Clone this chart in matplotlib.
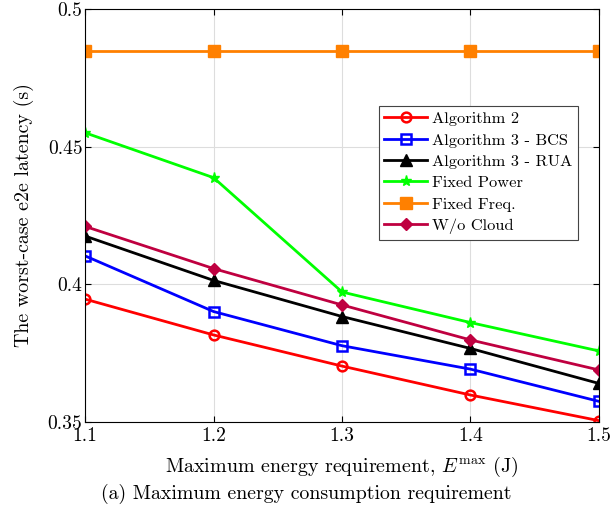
import numpy as np
import matplotlib
matplotlib.use("Agg")
import matplotlib.pyplot as plt

plt.rcParams['font.family'] = ['cmr10', 'DejaVu Serif']
plt.rcParams['mathtext.fontset'] = 'cm'
plt.rcParams['axes.formatter.use_mathtext'] = True

# Datos
e_max = [1.1, 1.2, 1.3, 1.4, 1.5]
alg2 = [0.3946, 0.3816, 0.3703, 0.3598, 0.3505]
alg3_bcs = [0.4103, 0.3901, 0.3777, 0.3692, 0.3575]
alg3_rua = [0.4175, 0.4014, 0.3883, 0.3767, 0.3640]
fixed_power = [0.4550, 0.4387, 0.3972, 0.3861, 0.3758]
fixed_freq = [0.4847, 0.4847, 0.4847, 0.4847, 0.4847]
wo_cloud = [0.4210, 0.4057, 0.3925, 0.3798, 0.3689]

x_ticks = [1.1, 1.2, 1.3, 1.4, 1.5]
x_labels = ["1.1", "1.2", "1.3", "1.4", "1.5"]
y_ticks = [0.35, 0.4, 0.45, 0.5]
y_labels = ["0.35", "0.4", "0.45", "0.5"]

fig = plt.figure(figsize=(6.13, 5.21), dpi=100)
ax = fig.add_axes([0.139, 0.190, 0.838, 0.793])

lw = 2.0
ax.plot(e_max, alg2, color=(1, 0, 0), lw=lw, marker='o', ms=7, mfc='none', mew=1.8, label="Algorithm 2")
ax.plot(e_max, alg3_bcs, color=(0, 0, 1), lw=lw, marker='s', ms=7, mfc='none', mew=1.8, label="Algorithm 3 - BCS")
ax.plot(e_max, alg3_rua, color='black', lw=lw, marker='^', ms=8, label="Algorithm 3 - RUA")
ax.plot(e_max, fixed_power, color=(0, 1, 0), lw=lw, marker='*', ms=8, label="Fixed Power")
ax.plot(e_max, fixed_freq, color=(1, 0.5, 0), lw=lw, marker='s', ms=8, label="Fixed Freq.")
ax.plot(e_max, wo_cloud, color=(0.75, 0, 0.25), lw=lw, marker='D', ms=6, label="W/o Cloud")

ax.set_xlim(1.1, 1.5)
ax.set_ylim(0.35, 0.5)
ax.set_xticks(x_ticks)
ax.set_xticklabels(x_labels)
ax.set_yticks(y_ticks)
ax.set_yticklabels(y_labels)
ax.tick_params(direction='in', labelsize=14, length=4, top=True, right=True)
ax.tick_params(axis='x', pad=4)
ax.tick_params(axis='y', pad=2)
ax.grid(True, color='#dddddd', lw=0.8)
ax.set_axisbelow(True)

ax.set_xlabel(r"Maximum energy requirement, $E^{\mathrm{max}}$ (J)", fontsize=14.4, labelpad=7)
ax.set_ylabel("The worst-case e2e latency (s)", fontsize=14.4, labelpad=10)

leg = ax.legend(loc='upper right', bbox_to_anchor=(0.959, 0.765), fontsize=11.8,
                fancybox=False, edgecolor='#444444', framealpha=1,
                handlelength=2.6, handletextpad=0.3, borderpad=0.35,
                labelspacing=0.42, borderaxespad=0)
leg.get_frame().set_linewidth(0.8)

fig.text(0.5, 0.052, "(a) Maximum energy consumption requirement", ha='center',
         va='center', fontsize=14.3)

fig.savefig("out.png", dpi=100)
